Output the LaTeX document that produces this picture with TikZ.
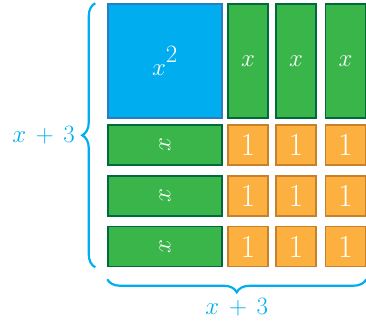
\documentclass[tikz,border=0pt]{standalone}
\usepackage{amsmath}
\usepackage{xcolor}
\definecolor{tileblue}{HTML}{00AEEF}
\definecolor{tilebluedark}{HTML}{2B7CC0}
\definecolor{tilegreen}{HTML}{3AB54A}
\definecolor{tilegreendark}{HTML}{00693E}
\definecolor{tileorange}{HTML}{FBB040}
\definecolor{tileorangedark}{HTML}{C9802A}
\definecolor{bracecol}{HTML}{00AEEF}
\usetikzlibrary{decorations.pathreplacing,positioning}

\begin{document}
\begin{tikzpicture}[x=1pt,y=1pt,
  tile/.style={draw,line width=1.5pt,inner sep=0pt,text=white,font=\fontsize{36}{36}\selectfont},
  sqtile/.style={tile,fill=tileblue,draw=tilebluedark,minimum width=114pt,minimum height=114pt},
  vxtile/.style={tile,fill=tilegreen,draw=tilegreendark,minimum width=40pt,minimum height=114pt},
  hxtile/.style={tile,fill=tilegreen,draw=tilegreendark,minimum width=114pt,minimum height=40pt},
  unittile/.style={tile,fill=tileorange,draw=tileorangedark,minimum width=40pt,minimum height=40pt,font=\fontsize{32}{32}\selectfont},
  bracket/.style={decorate,decoration={brace,amplitude=13pt},draw=bracecol,line width=2.2pt},
  lbl/.style={text=bracecol,font=\fontsize{27}{27}\selectfont}]
\useasboundingbox (0,0) rectangle (366,332);
% top row
\node[sqtile] (sq) at (165,271) {$x^{\raisebox{4pt}{$\scriptstyle 2$}}$};
\node[vxtile] (vx1) at (248,271) {$x$};
\node[vxtile] (vx2) at (296,271) {$x$};
\node[vxtile] (vx3) at (345.5,271) {$x$};
% lower rows
\node[hxtile] (hx1) at (165,187) {\rotatebox{90}{$x$}};
\node[hxtile] (hx2) at (165,136) {\rotatebox{90}{$x$}};
\node[hxtile] (hx3) at (165,85.5) {\rotatebox{90}{$x$}};
\node[unittile] (u11) at (248,187) {1};
\node[unittile] (u12) at (296,187) {1};
\node[unittile] (u13) at (345.5,187) {1};
\node[unittile] (u21) at (248,136) {1};
\node[unittile] (u22) at (296,136) {1};
\node[unittile] (u23) at (345.5,136) {1};
\node[unittile] (u31) at (248,85.5) {1};
\node[unittile] (u32) at (296,85.5) {1};
\node[unittile] (u33) at (345.5,85.5) {1};
% braces
\draw[bracket] ([xshift=-12pt]hx3.south west) -- ([xshift=-12pt]sq.north west)
  node[lbl,midway,left=16pt] (lblside) {$x\,+\,3$};
\draw[bracket] ([yshift=-12pt]u33.south east) -- ([yshift=-12pt]hx3.south west)
  node[lbl,midway,below=15pt] (lblbase) {$x\,+\,3$};
\end{tikzpicture}
\end{document}
